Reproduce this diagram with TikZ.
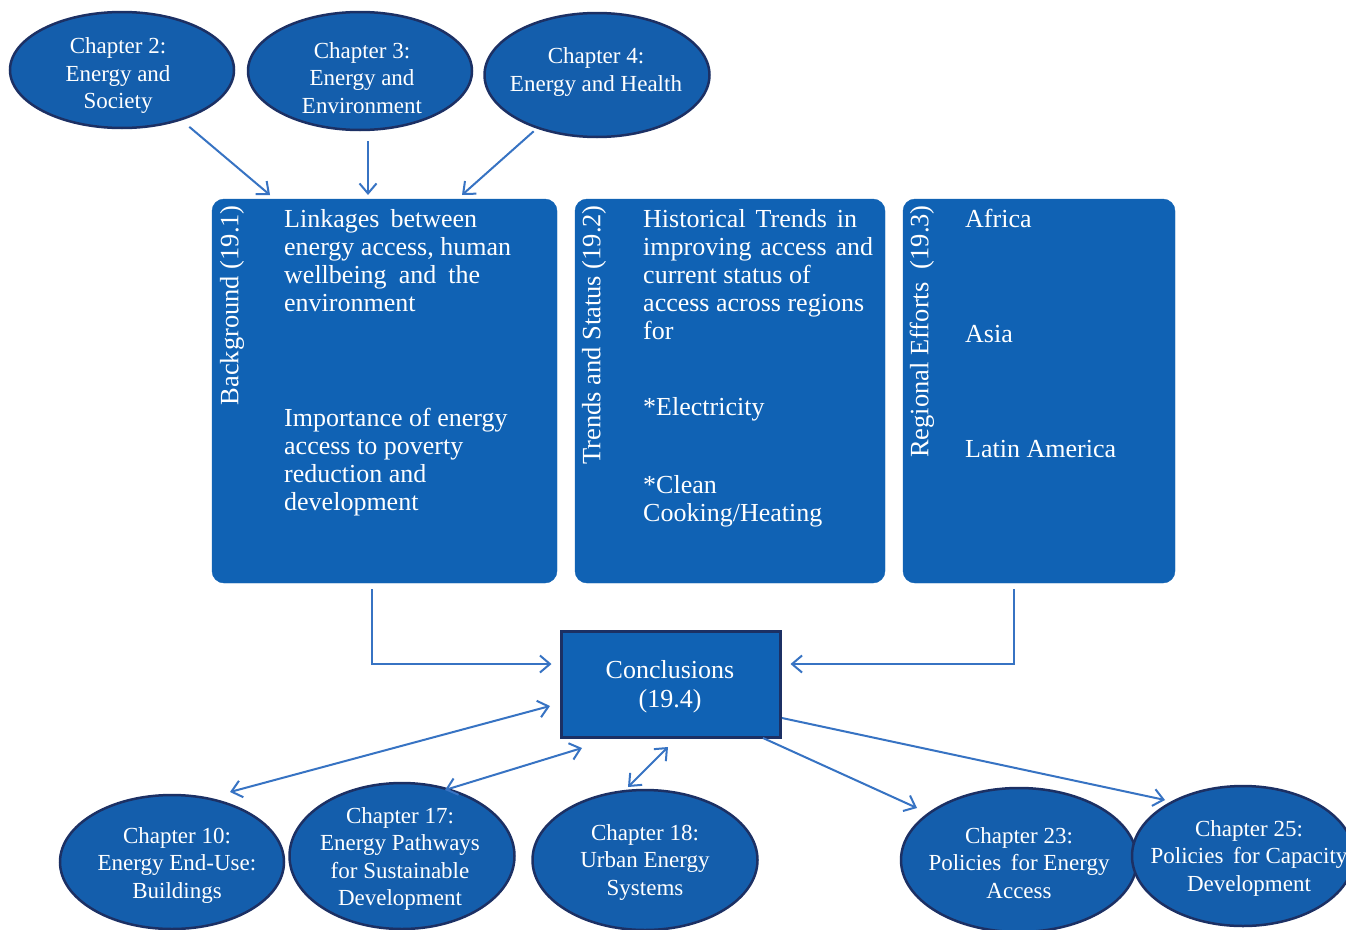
\documentclass[tikz,border=0pt]{standalone}
\usepackage{fontspec}
\setmainfont{Liberation Serif}
\usetikzlibrary{arrows.meta,shapes.geometric}
\definecolor{boxblue}{RGB}{16,98,180}
\definecolor{ellblue}{RGB}{20,94,172}
\definecolor{navy}{RGB}{28,48,100}
\definecolor{arrblue}{RGB}{55,115,195}
\begin{document}
\begin{tikzpicture}[x=1pt,y=-1pt,
 ell/.style={ellipse, draw=navy, line width=2.5pt, fill=ellblue, inner sep=0},
 etext/.style={text=white, align=center, font=\fontsize{23}{27.5}\selectfont, inner sep=0},
 bigbox/.style={rounded corners=12pt, fill=boxblue, draw=boxblue, inner sep=0},
 btext/.style={text=white, align=left, font=\fontsize{26}{28}\selectfont, inner sep=0, anchor=north west},
 vlabel/.style={text=white, rotate=90, anchor=east, font=\fontsize{26.5}{28}\selectfont, inner sep=0},
 concbox/.style={rectangle, draw=navy, line width=3pt, fill=boxblue, minimum width=219pt, minimum height=106pt, inner sep=0},
 tip/.tip={Straight Barb[length=10pt,width=17pt]},
 arr/.style={draw=arrblue, line width=2pt, -tip},
 darr/.style={draw=arrblue, line width=2pt, tip-tip},
]
\clip (0,0) rectangle (1346,929);
\fill[white] (0,0) rectangle (1346,929);

% top ellipses
\node[ell, minimum width=224pt, minimum height=116pt] (c2) at (122,70) {};
\node[etext] (c2t) at (118,76) {Chapter 2:\\Energy and\\Society};
\node[ell, minimum width=224pt, minimum height=118pt] (c3) at (360,71) {};
\node[etext] (c3t) at (362,78) {Chapter 3:\\Energy and\\Environment};
\node[ell, minimum width=225pt, minimum height=124pt] (c4) at (597,75) {};
\node[etext] (c4t) at (596,72) {Chapter 4:\\Energy and Health};

% main boxes
\node[bigbox, minimum width=345pt, minimum height=384pt] (b1) at (384.5,391) {};
\node[bigbox, minimum width=310pt, minimum height=384pt] (b2) at (730,391) {};
\node[bigbox, minimum width=272pt, minimum height=384pt] (b3) at (1039,391) {};

\node[vlabel] (v1) at (232,205) {Background (19.1)};
\node[vlabel] (v2) at (594,205) {Trends and Status (19.2)};
\node[vlabel] (v3) at (922,205) {Regional Efforts\ \ (19.3)};

\node[btext] (t1a) at (284,209) {\makebox[193pt][s]{Linkages between}\\energy access, human\\\makebox[196pt][s]{wellbeing and the}\\environment};
\node[btext] (t1b) at (284,408) {Importance of energy\\access to poverty\\reduction and\\development};

\node[btext] (t2a) at (643,209) {\makebox[214pt][s]{Historical Trends in}\\\makebox[230pt][s]{improving access and}\\current status of\\access across regions\\for};
\node[btext] (t2b) at (643,397) {*Electricity};
\node[btext] (t2c) at (643,475) {*Clean\\Cooking/Heating};

\node[btext] (t3a) at (965,209) {Africa};
\node[btext] (t3b) at (965,325) {Asia};
\node[btext] (t3c) at (965,440) {Latin America};

% conclusions
\node[concbox] (concl) at (670.5,684) {};
\node[text=white, align=center, font=\fontsize{26}{29}\selectfont, inner sep=0] (conclt) at (670,687) {Conclusions\\(19.4)};

% bottom ellipses
\node[ell, minimum width=224pt, minimum height=134pt] (c10) at (172,862) {};
\node[etext] (c10t) at (177,865) {Chapter 10:\\Energy End-Use:\\Buildings};
\node[ell, minimum width=225pt, minimum height=146pt] (c17) at (402,856) {};
\node[etext] (c17t) at (400,859) {Chapter 17:\\Energy Pathways\\for Sustainable\\Development};
\node[ell, minimum width=225pt, minimum height=140pt] (c18) at (645,860) {};
\node[etext] (c18t) at (645,862) {Chapter 18:\\Urban Energy\\Systems};
\node[ell, minimum width=236pt, minimum height=144pt] (c23) at (1019,860) {};
\node[etext] (c23t) at (1019,863) {Chapter 23:\\Policies\, for Energy\\Access};
\node[ell, minimum width=222pt, minimum height=140pt] (c25) at (1243,856) {};
\node[etext] (c25t) at (1249,858) {Chapter 25:\\Policies\, for Capacity\\Development};

% connectors top
\coordinate (a2) at (270,195);
\coordinate (a3) at (368,195);
\coordinate (a4) at (462,195);
\draw[arr, shorten <=10pt] (c2) -- (a2);
\draw[arr, shorten <=10pt] (a3 |- c3.south) -- (a3);
\draw[arr, shorten <=4pt] (c4) -- (a4);

% boxes to conclusions
\draw[arr, shorten <=6pt] ([xshift=-12.5pt]b1.south) |- ([xshift=-8pt,yshift=20pt]concl.west);
\draw[arr, shorten <=6pt] ([xshift=-25pt]b3.south) |- ([xshift=9pt,yshift=20pt]concl.east);

% conclusions to bottom chapters
\coordinate (k10) at (230,792);
\coordinate (q10) at (550,706);
\coordinate (k17) at (445,790);
\coordinate (q17) at (582,748);
\coordinate (k18) at (628,787);
\coordinate (q18) at (668,747);
\coordinate (q23) at (763,738);
\coordinate (k23) at (917,808);
\coordinate (q25) at (782,718);
\coordinate (k25) at (1165,800);
\draw[darr] (k10) -- (q10);
\draw[darr] (k17) -- (q17);
\draw[darr] (k18) -- (q18);
\draw[arr] (q23) -- (k23);
\draw[arr] (q25) -- (k25);
\end{tikzpicture}
\end{document}
